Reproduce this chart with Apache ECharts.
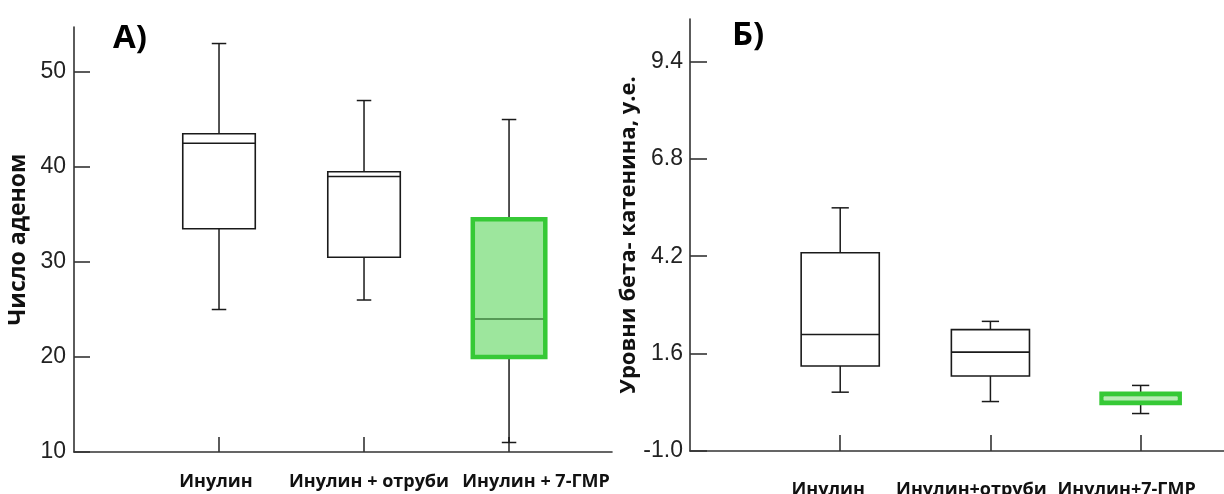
<!DOCTYPE html>
<html><head><meta charset="utf-8">
<script src="https://cdn.jsdelivr.net/npm/echarts@6/dist/echarts.min.js"></script>
<style>html,body{margin:0;padding:0;background:#fff}#c{width:1224px;height:494px}</style>
</head><body><div id="c"></div>
<script>
// Panel A: number of adenomas
const categoriesA = ['Инулин', 'Инулин + отруби', 'Инулин + 7-ГМР'];
// each row: [min, Q1, median, Q3, max]
const adenomaStats = [
  [25, 33.5, 42.5, 43.5, 53],
  [26, 30.5, 39, 39.5, 47],
  [11, 20, 24, 34.5, 45]
];
const ticksA = [10, 20, 30, 40, 50];

// Panel B: beta-catenin levels
const categoriesB = ['Инулин', 'Инулин+отруби', 'Инулин+7-ГМР'];
const cateninStats = [
  [0.57, 1.27, 2.11, 4.29, 5.49],
  [0.32, 1.0, 1.64, 2.24, 2.46],
  [0.0, 0.28, 0.4, 0.53, 0.75]
];
const ticksB = [-1.0, 1.6, 4.2, 6.8, 9.4];

const highlightIndex = 2;

const yMinA = 10, yMaxA = 54.74;
const yMinB = -1.0, yMaxB = 10.53;

function makeRender(opt) {
  return function (params, api) {
    const i = params.dataIndex;
    const x = api.value(0);
    const pMin = api.coord([x, api.value(1)]);
    const pQ1 = api.coord([x, api.value(2)]);
    const pMd = api.coord([x, api.value(3)]);
    const pQ3 = api.coord([x, api.value(4)]);
    const pMax = api.coord([x, api.value(5)]);
    const hw = api.size([opt.boxW, 0])[0] / 2;
    const cw = api.size([opt.capW, 0])[0] / 2;
    const cx = pMin[0];
    const hl = i === highlightIndex;
    const k = '#1a1a1a';
    const ls = { stroke: k, lineWidth: 1.5 };
    return {
      type: 'group',
      children: [
        { type: 'line', shape: { x1: cx, y1: pQ3[1], x2: cx, y2: pMax[1] }, style: ls },
        { type: 'line', shape: { x1: cx - cw, y1: pMax[1], x2: cx + cw, y2: pMax[1] }, style: ls },
        { type: 'line', shape: { x1: cx, y1: pQ1[1], x2: cx, y2: pMin[1] }, style: ls },
        { type: 'line', shape: { x1: cx - cw, y1: pMin[1], x2: cx + cw, y2: pMin[1] }, style: ls },
        { type: 'rect', shape: { x: cx - hw, y: pQ3[1], width: 2 * hw, height: pQ1[1] - pQ3[1] },
          style: { fill: hl ? opt.hlFill : '#fff', stroke: hl ? '#36c936' : k, lineWidth: hl ? 4.5 : 1.6 } },
        { type: 'line', shape: { x1: cx - hw + (hl ? 2 : 0), y1: pMd[1], x2: cx + hw - (hl ? 2 : 0), y2: pMd[1] },
          style: { stroke: hl ? opt.hlMedian : k, lineWidth: hl ? opt.hlMedianW : 1.6 } }
      ]
    };
  };
}

// category labels drawn under each category position (pixel nudges are style only)
function makeLabelRender(names, yBase, dxs, dy) {
  return function (params, api) {
    const i = params.dataIndex;
    const p = api.coord([api.value(0), yBase]);
    return {
      type: 'text', x: p[0] + dxs[i], y: p[1] + dy,
      style: { text: names[i], font: 'bold 18px "Open Sans"', fill: '#111',
        textAlign: 'center', textVerticalAlign: 'middle' }
    };
  };
}

const axisLineStyle = { color: '#333', width: 1.6 };
const tickLabelStyle = { fontFamily: 'Liberation Sans', fontSize: 23, color: '#222' };
const nameStyle = { fontFamily: 'Open Sans', fontWeight: 'bold', fontSize: 22, color: '#111' };

const chart = echarts.init(document.getElementById('c'), null, { renderer: 'canvas' });
chart.setOption({
  backgroundColor: '#fff',
  animation: false,
  grid: [
    { left: 74, top: 27, width: 538, bottom: 42, containLabel: false, outerBoundsMode: 'none' },
    { left: 690, top: 19, right: 0, bottom: 43, containLabel: false, outerBoundsMode: 'none' }
  ],
  xAxis: [
    {
      gridIndex: 0, type: 'value', min: 0, max: 3.71,
      splitLine: { show: false },
      axisLine: { onZero: false, lineStyle: axisLineStyle },
      axisTick: { inside: true, length: 15, customValues: [1, 2, 3], lineStyle: axisLineStyle },
      axisLabel: { show: false }
    },
    {
      gridIndex: 1, type: 'value', min: 0, max: 3.555,
      splitLine: { show: false },
      axisLine: { onZero: false, lineStyle: axisLineStyle },
      axisTick: { inside: true, length: 16, customValues: [1, 2, 3], lineStyle: axisLineStyle },
      axisLabel: { show: false }
    }
  ],
  yAxis: [
    {
      gridIndex: 0, type: 'value', min: yMinA, max: yMaxA,
      splitLine: { show: false },
      axisLine: { show: true, onZero: false, lineStyle: axisLineStyle },
      axisTick: { show: true, inside: true, length: 16, customValues: ticksA, lineStyle: axisLineStyle },
      axisLabel: { customValues: ticksA, margin: 8, ...tickLabelStyle },
      name: 'Число аденом', nameLocation: 'middle', nameRotate: 90, nameGap: 44,
      nameTextStyle: { ...nameStyle, fontSize: 23 }
    },
    {
      gridIndex: 1, type: 'value', min: yMinB, max: yMaxB,
      splitLine: { show: false },
      axisLine: { show: true, onZero: false, lineStyle: axisLineStyle },
      axisTick: { show: true, inside: true, length: 17, customValues: ticksB, lineStyle: axisLineStyle },
      axisLabel: { customValues: ticksB, margin: 7, ...tickLabelStyle,
        formatter: v => v.toFixed(1) },
      name: 'Уровни бета- катенина, у.е.', nameLocation: 'middle', nameRotate: 90, nameGap: 49,
      nameTextStyle: nameStyle
    }
  ],
  series: [
    {
      type: 'custom', xAxisIndex: 0, yAxisIndex: 0,
      renderItem: makeRender({ boxW: 0.5, capW: 0.1, hlFill: '#9de69d', hlMedian: '#3f7f3f', hlMedianW: 1.5 }),
      encode: { x: 0, y: [1, 2, 3, 4, 5] },
      data: adenomaStats.map((s, i) => [i + 1, ...s])
    },
    {
      type: 'custom', xAxisIndex: 1, yAxisIndex: 1,
      renderItem: makeRender({ boxW: 0.52, capW: 0.115, hlFill: '#8fdc8f', hlMedian: '#b8ecb4', hlMedianW: 3 }),
      encode: { x: 0, y: [1, 2, 3, 4, 5] },
      data: cateninStats.map((s, i) => [i + 1, ...s])
    },
    {
      type: 'custom', xAxisIndex: 0, yAxisIndex: 0, clip: false, silent: true,
      renderItem: makeLabelRender(categoriesA, yMinA, [-3, 5, 27], 30),
      encode: { x: 0 },
      data: categoriesA.map((c, i) => [i + 1])
    },
    {
      type: 'custom', xAxisIndex: 1, yAxisIndex: 1, clip: false, silent: true,
      renderItem: makeLabelRender(categoriesB, yMinB, [-12, -19, -14], 39),
      encode: { x: 0 },
      data: categoriesB.map((c, i) => [i + 1])
    }
  ],
  graphic: [
    { type: 'text', x: 113, y: 39, style: { text: 'А)', font: 'bold 33px "Open Sans"', fill: '#000', textVerticalAlign: 'middle' } },
    { type: 'text', x: 732, y: 36, style: { text: 'Б)', font: 'bold 33px "Open Sans"', fill: '#000', textVerticalAlign: 'middle' } }
  ]
});
</script>
</body></html>
